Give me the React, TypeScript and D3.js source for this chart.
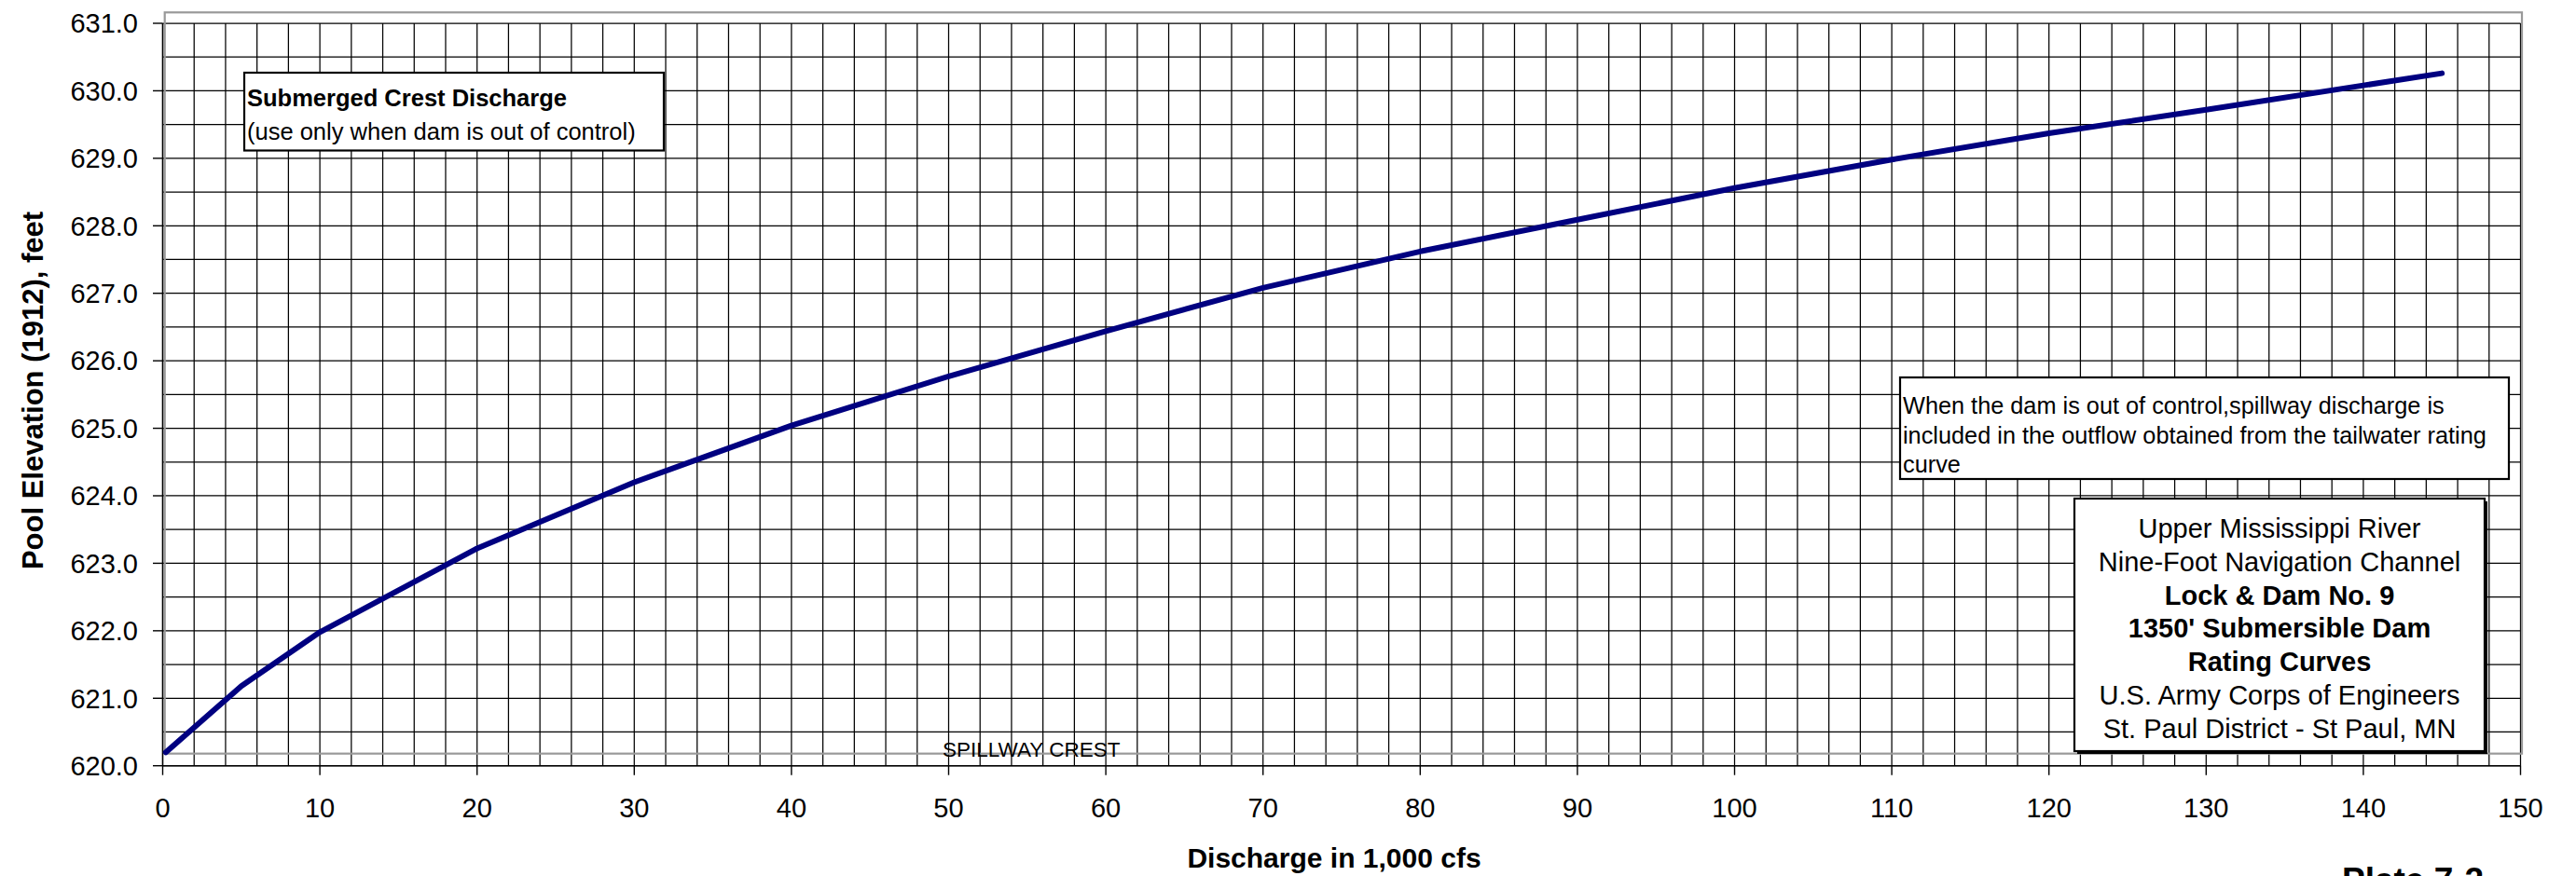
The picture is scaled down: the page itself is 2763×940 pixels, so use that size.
import React from "react";
import * as d3 from "d3";

const discharge = [0.2, 5, 10, 20, 30, 40, 50, 60, 70, 80, 90, 100, 110, 120, 130, 140, 145];
const elevation = [620.2, 621.18, 621.98, 623.22, 624.2, 625.04, 625.77, 626.44, 627.08, 627.62, 628.09, 628.56, 628.98, 629.37, 629.72, 630.08, 630.26];
const xTicks = [0, 10, 20, 30, 40, 50, 60, 70, 80, 90, 100, 110, 120, 130, 140, 150];
const yTicks = [620, 621, 622, 623, 624, 625, 626, 627, 628, 629, 630, 631];
const xGrid = d3.range(0, 151, 2);
const yGrid = d3.range(620, 631.01, 0.5);
const spillwayCrest = 620.18;

const titleLines = [
  { t: "Upper Mississippi River", b: false },
  { t: "Nine-Foot Navigation Channel", b: false },
  { t: "Lock & Dam No. 9", b: true },
  { t: "1350' Submersible Dam", b: true },
  { t: "Rating Curves", b: true },
  { t: "U.S. Army Corps of Engineers", b: false },
  { t: "St. Paul District - St Paul, MN", b: false },
];
const noteLines = [
  "When the dam is out of control,spillway discharge is",
  "included in the outflow obtained from the tailwater rating",
  "curve",
];

const W = 2763;
const H = 940;
const FONT = "'Liberation Sans', Arial, Helvetica, sans-serif";

export default function App() {
  const x = d3.scaleLinear().domain([0, 150]).range([174.5, 2703.5]);
  const y = d3.scaleLinear().domain([620, 631]).range([821.7, 25]);
  const line = d3
    .line<number>()
    .x((_, i) => x(discharge[i]))
    .y((d) => y(d));

  const x0 = x(0), x1 = x(150), y0 = y(620), y1 = y(631);

  return (
    <svg
      width={W}
      height={H}
      style={{ position: "absolute", left: 0, top: 0, background: "#fff" }}
      fontFamily={FONT}
    >
      <rect x={0} y={0} width={W} height={H} fill="#fff" />
      {/* grid */}
      {xGrid.map((g) => (
        <line key={"xg" + g} x1={x(g)} x2={x(g)} y1={y1} y2={y0} stroke="#000" strokeWidth={1.25} />
      ))}
      {yGrid.map((g) => (
        <line key={"yg" + g} x1={x0} x2={x1} y1={y(g)} y2={y(g)} stroke="#000" strokeWidth={1.25} />
      ))}
      {/* plot frame (gray) */}
      <rect
        x={x0 + 2.2}
        y={13.3}
        width={2705 - (x0 + 2.2)}
        height={y(spillwayCrest) - 13.3}
        fill="none"
        stroke="#999"
        strokeWidth={2.2}
      />
      {/* axes */}
      <line x1={x0} x2={x0} y1={y1} y2={y0} stroke="#000" strokeWidth={1.4} />
      <line x1={x0} x2={x1} y1={y0} y2={y0} stroke="#000" strokeWidth={1.4} />
      {yTicks.map((t) => (
        <g key={"yt" + t}>
          <line x1={x0 - 10.5} x2={x0} y1={y(t)} y2={y(t)} stroke="#000" strokeWidth={1.4} />
          <text x={148} y={y(t)} dy="0.355em" textAnchor="end" fontSize={29} fill="#000">
            {t.toFixed(1)}
          </text>
        </g>
      ))}
      {xTicks.map((t) => (
        <g key={"xt" + t}>
          <line x1={x(t)} x2={x(t)} y1={y0} y2={y0 + 10} stroke="#000" strokeWidth={1.4} />
          <text x={x(t)} y={877} textAnchor="middle" fontSize={29} fill="#000">
            {t}
          </text>
        </g>
      ))}
      {/* spillway crest label */}
      <text x={1011} y={812} fontSize={22.5} fill="#000">SPILLWAY CREST</text>

      {/* curve */}
      <path
        d={line(elevation) || ""}
        fill="none"
        stroke="#000080"
        strokeWidth={6}
        strokeLinejoin="round"
        strokeLinecap="round"
      />

      {/* Submerged crest box */}
      <rect x={262} y={78} width={450} height={83.5} fill="#fff" stroke="#000" strokeWidth={2.2} />
      <text x={265} y={114} fontSize={25.5} fontWeight="bold" fill="#000">Submerged Crest Discharge</text>
      <text x={265} y={150} fontSize={25.5} fill="#000">(use only when dam is out of control)</text>

      {/* note box */}
      <rect x={2038} y={405} width={653} height={109} fill="#fff" stroke="#000" strokeWidth={2.2} />
      {noteLines.map((s, i) => (
        <text key={"n" + i} x={2041} y={444 + i * 31.5} fontSize={25.3} fill="#000">
          {s}
        </text>
      ))}

      {/* title block */}
      <rect x={2228} y={538} width={440} height={271} fill="#000" />
      <rect x={2225} y={535} width={440} height={271} fill="#fff" stroke="#000" strokeWidth={2.2} />
      {titleLines.map((l, i) => (
        <text
          key={"t" + i}
          x={2445}
          y={577 + i * 35.8}
          textAnchor="middle"
          fontSize={29}
          fontWeight={l.b ? "bold" : "normal"}
          fill="#000"
        >
          {l.t}
        </text>
      ))}

      {/* axis titles */}
      <text x={1431} y={931} textAnchor="middle" fontSize={30} fontWeight="bold" fill="#000">
        Discharge in 1,000 cfs
      </text>
      <text
        transform={`translate(46, 419) rotate(-90)`}
        textAnchor="middle"
        fontSize={31}
        fontWeight="bold"
        fill="#000"
      >
        Pool Elevation (1912), feet
      </text>
      <text x={2512} y={957} fontSize={37} fontWeight="bold" fill="#000">Plate 7-2</text>
    </svg>
  );
}
